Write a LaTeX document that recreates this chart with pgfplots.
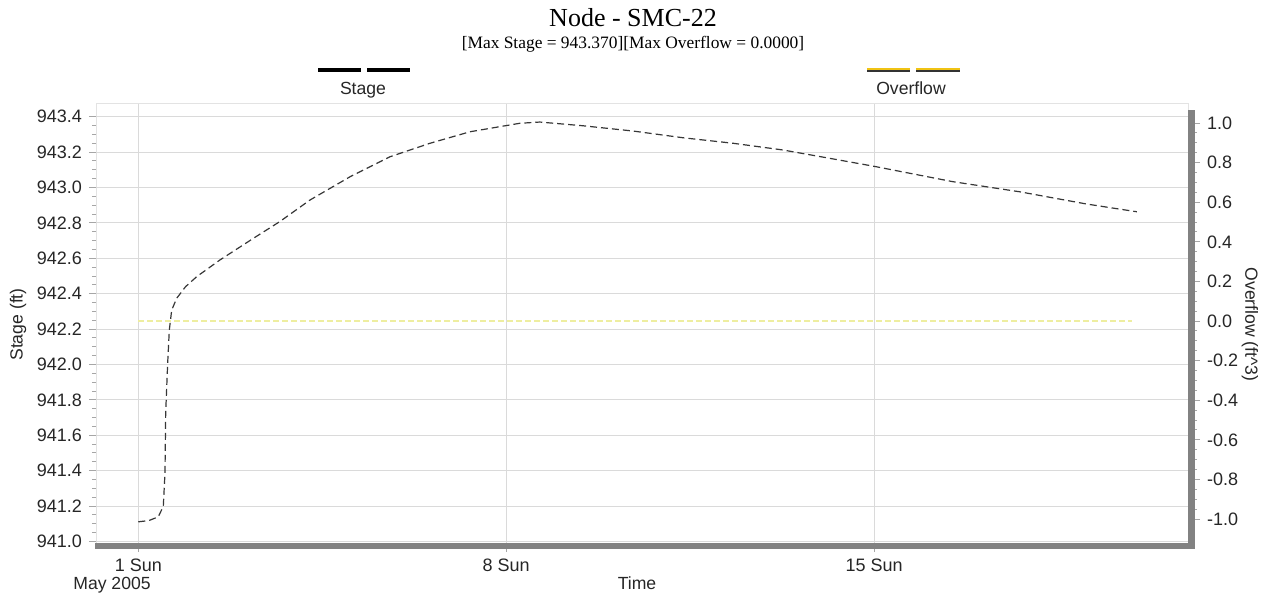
\documentclass[border=0pt]{standalone}
\usepackage{pgfplots}
\pgfplotsset{compat=1.18}
\usepackage{pgfplotstable}
\usepackage{fontspec}
\setmainfont{Liberation Sans}
\newfontfamily\titlefont{Liberation Serif}
\definecolor{gridc}{RGB}{218,218,218}
\definecolor{barc}{RGB}{130,130,130}
\definecolor{stagec}{RGB}{55,55,55}
\definecolor{ovc}{RGB}{238,238,160}
\definecolor{ovleg}{RGB}{240,195,20}

\pgfplotstableread{
day stage
1.00 941.111
1.20 941.118
1.38 941.139
1.476 941.199
1.508 941.389
1.521 941.727
1.559 942.008
1.59 942.194
1.635 942.307
1.73 942.374
1.90 942.44
2.11 942.496
2.55 942.59
3.19 942.713
3.69 942.807
4.27 942.93
5.03 943.061
5.79 943.174
6.55 943.25
7.31 943.315
7.94 943.347
8.26 943.363
8.64 943.370
9.46 943.349
10.42 943.319
11.37 943.281
12.32 943.25
13.27 943.212
14.1 943.168
14.98 943.121
16.5 943.033
17.77 942.976
19.04 942.907
20.0 942.863
}\stagetab

\pgfplotstableread{
day overflow
1.0 0.0
19.9 0.0
}\overtab

\begin{document}
\begin{tikzpicture}[x=1pt,y=1pt]
\useasboundingbox (-48,-27) rectangle (585.5,272.5);
\draw[gray!22, line width=0.5pt] (0,0) rectangle (546,220.5);
\begin{axis}[
  at={(0,0)}, anchor=south west,
  scale only axis, width=546pt, height=220.5pt,
  xmin=0.195, xmax=20.974, ymin=940.98, ymax=943.472,
  axis x line*=bottom, axis y line*=left,
  axis line style={draw=none},
  xtick={1,8,15}, xticklabels={1 Sun,8 Sun,15 Sun},
  ytick={941.0,941.2,941.4,941.6,941.8,942.0,942.2,942.4,942.6,942.8,943.0,943.2,943.4},
  yticklabels={941.0,941.2,941.4,941.6,941.8,942.0,942.2,942.4,942.6,942.8,943.0,943.2,943.4},
  minor y tick num=3,
  grid=major, major grid style={gridc, line width=0.5pt},
  tick style={gray!70, line width=0.5pt},
  tick align=outside, major tick length=3.5pt, minor tick length=2pt,
  ticklabel style={font=\fontsize{9}{10}\selectfont, text=black!85},
  ylabel={Stage (ft)},
  ylabel style={at={(axis description cs:-0.0714,0.5)}, anchor=center, font=\fontsize{8.8}{10}\selectfont, text=black!85},
]
\addplot[stagec, line width=0.6pt, dash pattern=on 3.5pt off 2pt] table[x=day,y=stage]{\stagetab};
\end{axis}
\begin{axis}[
  at={(0,0)}, anchor=south west,
  scale only axis, width=546pt, height=220.5pt,
  xmin=0.195, xmax=20.974, ymin=-1.131, ymax=1.096,
  axis x line=none, axis y line*=right,
  axis line style={draw=none},
  ytick={-1,-0.8,-0.6,-0.4,-0.2,0,0.2,0.4,0.6,0.8,1},
  yticklabels={-1.0,-0.8,-0.6,-0.4,-0.2,0.0,0.2,0.4,0.6,0.8,1.0},
  minor y tick num=3,
  tick style={gray!70, line width=0.5pt},
  tick align=outside, major tick length=6pt, minor tick length=4.5pt,
  ticklabel style={font=\fontsize{9}{10}\selectfont, text=black!85},
  ylabel={Overflow (ft\textasciicircum 3)},
  ylabel style={at={(axis description cs:1.0568,0.5)}, anchor=center, rotate=180, font=\fontsize{8.8}{10}\selectfont, text=black!85},
]
\addplot[ovc, line width=0.6pt, dash pattern=on 3pt off 1.5pt] table[x=day,y=overflow]{\overtab};
\end{axis}
% axis bars
\fill[barc] (-0.5,-2.2) rectangle (549.5,0.8);
\fill[barc] (546,-2.2) rectangle (549.5,217.5);
% titles
\node[font=\titlefont\fontsize{13}{15}\selectfont] at (268.5,263.6) {Node - SMC-22};
\node[font=\titlefont\fontsize{8.7}{10}\selectfont] at (268.5,250.5) {[Max Stage = 943.370][Max Overflow = 0.0000]};
% legend
\draw[black, line width=2pt] (111,237.5) -- (132.5,237.5);
\draw[black, line width=2pt] (135.5,237.5) -- (157,237.5);
\node[anchor=base, font=\fontsize{8.8}{10}\selectfont, text=black!85] at (133.5,225) {Stage};
\draw[black!80, line width=2.2pt] (385.5,237.5) -- (407,237.5);
\draw[black!80, line width=2.2pt] (410,237.5) -- (432,237.5);
\draw[ovleg, line width=1.3pt] (385.5,237.9) -- (407,237.9);
\draw[ovleg, line width=1.3pt] (410,237.9) -- (432,237.9);
\node[anchor=base, font=\fontsize{8.8}{10}\selectfont, text=black!85] at (407.5,225) {Overflow};
% x annotations
\node[anchor=base, font=\fontsize{8.8}{10}\selectfont, text=black!85] at (8,-22) {May 2005};
\node[anchor=base, font=\fontsize{8.8}{10}\selectfont, text=black!85] at (270.5,-22) {Time};
\end{tikzpicture}
\end{document}
